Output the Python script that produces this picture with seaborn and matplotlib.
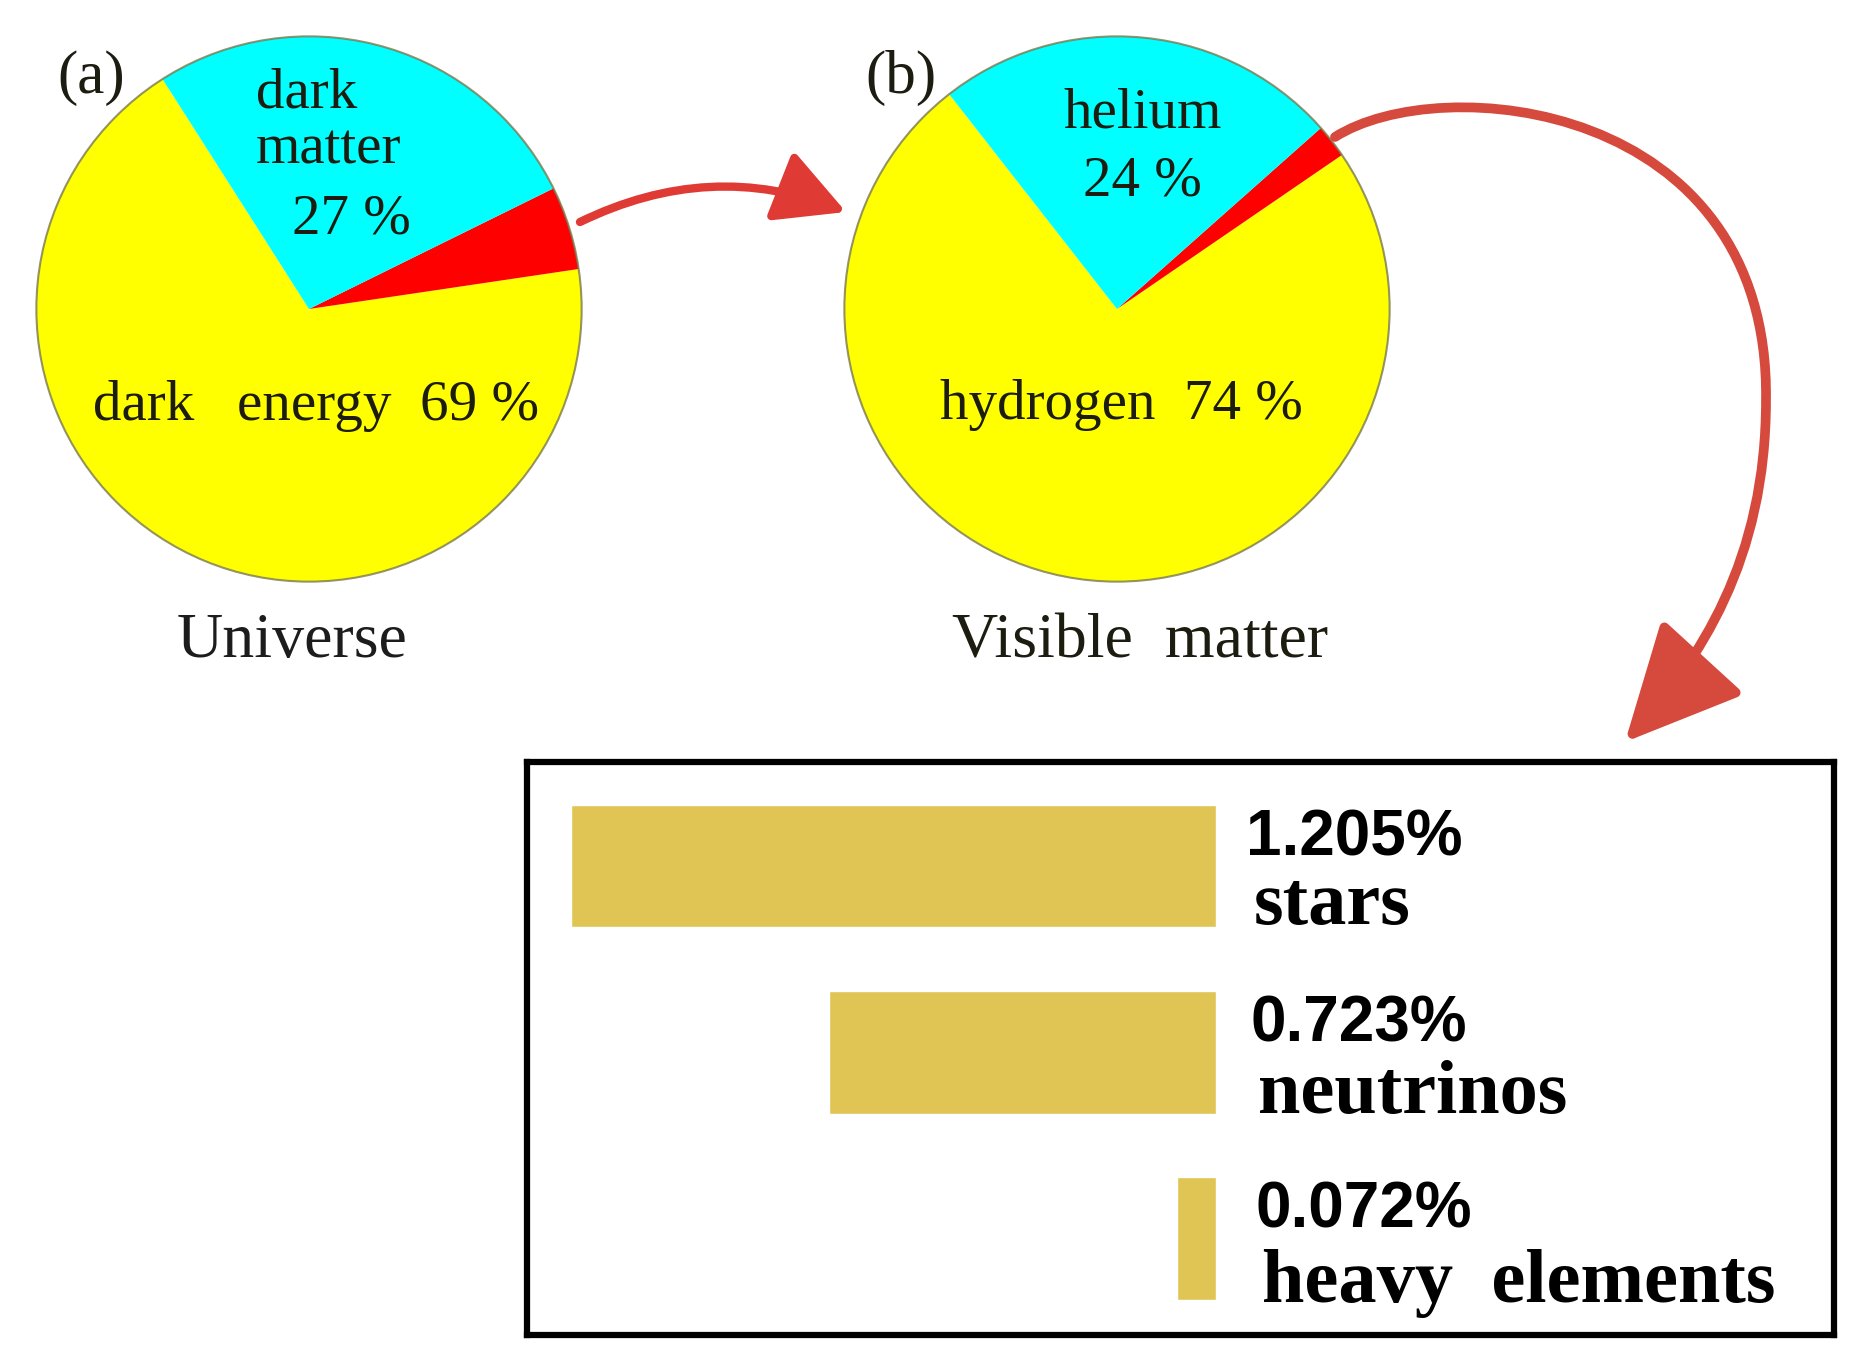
import matplotlib
matplotlib.use("Agg")
import matplotlib.pyplot as plt
import seaborn as sns
import pandas as pd
from matplotlib.patches import FancyArrowPatch, Circle
from matplotlib.path import Path

# data
universe_labels = ["dark energy", "ordinary matter", "dark matter"]
universe_values = [69, 5, 27]
visible_labels = ["hydrogen", "other", "helium"]
visible_values = [74, 2, 24]
pie_colors = ["#ffff00", "#ff0000", "#00ffff"]

bar_names = ["stars", "neutrinos", "heavy  elements"]
bar_values = [1.205, 0.723, 0.072]
bar_texts = ["1.205%", "0.723%", "0.072%"]

W, H = 1866, 1358
sns.set_theme(style="white")
plt.rcParams["font.family"] = ["Liberation Serif", "DejaVu Serif"]

fig = plt.figure(figsize=(W / 100, H / 100), dpi=100)
fig.patch.set_facecolor("white")


def fx(x):
    return x / W


def fy(y):
    return 1 - y / H


def pie_axes(cx, cy, r):
    ax = fig.add_axes([fx(cx - r), fy(cy + r), 2 * r / W, 2 * r / H])
    ax.axis("off")
    return ax


def finish_pie(ax):
    ax.add_patch(Circle((0, 0), 1, fill=False, ec="#7a7a50", lw=1.5, alpha=0.8))
    ax.set_xlim(-1.005, 1.005)
    ax.set_ylim(-1.005, 1.005)
    ax.set_aspect("equal")


ax_a = pie_axes(309, 309, 274)
ax_a.pie(universe_values, colors=pie_colors, startangle=122.5, counterclock=True,
         radius=1, wedgeprops=dict(linewidth=0))
finish_pie(ax_a)

ax_b = pie_axes(1117, 309, 274)
ax_b.pie(visible_values, colors=pie_colors, startangle=128, counterclock=True,
         radius=1, wedgeprops=dict(linewidth=0))
finish_pie(ax_b)

serif = dict(color="#1c1c10", va="baseline")
fs = 41
fig.text(fx(57), fy(93), "(a)", fontsize=44, **serif)
fig.text(fx(865), fy(93), "(b)", fontsize=44, **serif)
fig.text(fx(256), fy(108), "dark", fontsize=fs, **serif)
fig.text(fx(256), fy(163), "matter", fontsize=fs, **serif)
fig.text(fx(292), fy(234), "27 %", fontsize=fs, **serif)
fig.text(fx(93), fy(420), "dark   energy  69 %", fontsize=fs, **serif)
fig.text(fx(292), fy(657), "Universe", fontsize=46, ha="center", color="#1c1c1c", va="baseline")
fig.text(fx(1063), fy(127), "helium", fontsize=fs, **serif)
fig.text(fx(1083), fy(196), "24 %", fontsize=fs, **serif)
fig.text(fx(940), fy(419), "hydrogen  74 %", fontsize=fs, **serif)
fig.text(fx(952), fy(657), "Visible  matter", fontsize=46, **serif)

# bar panel (axes frame is the black box)
ax_bar = fig.add_axes([fx(527), fy(1335), (1834 - 527) / W, (1335 - 762) / H])
df = pd.DataFrame({"name": bar_names, "value": bar_values})
sns.barplot(data=df, x="value", y="name", orient="h", color="#e0c555",
            saturation=1, width=0.66, ax=ax_bar)
ax_bar.set_xlim(1.287, -1.1545)
ax_bar.set_ylim(2.52, -0.559)
ax_bar.set_xticks([])
ax_bar.set_yticks([])
ax_bar.set_xlabel("")
ax_bar.set_ylabel("")
for s in ax_bar.spines.values():
    s.set_visible(True)
    s.set_color("black")
    s.set_linewidth(4.5)

for i, (num, name) in enumerate(zip(bar_texts, bar_names)):
    ax_bar.annotate(num, xy=(0, i), xytext=(30 + 5 * i, 11), textcoords="offset pixels",
                    fontsize=46, fontweight="bold", family=["Liberation Sans", "DejaVu Sans"],
                    va="baseline", ha="left", color="black")
    ax_bar.annotate(name, xy=(0, i), xytext=(38 + 4 * i, -58 - 3 * i), textcoords="offset pixels",
                    fontsize=55, fontweight="bold", va="baseline", ha="left", color="black")

arrow_red = "#d64a3e"
small = FancyArrowPatch((fx(580), fy(222)), (fx(846), fy(212)), transform=fig.transFigure,
                        connectionstyle="arc3,rad=-0.22",
                        arrowstyle="-|>,head_length=0.85,head_width=0.45",
                        mutation_scale=50, lw=6, color="#e03a35", shrinkA=0, shrinkB=0)
fig.add_artist(small)

verts = [(1335, 137), (1440, 70), (1770, 100), (1766, 400),
         (1766, 560), (1700, 660), (1625, 742)]
codes = [Path.MOVETO, Path.CURVE4, Path.CURVE4, Path.CURVE4,
         Path.CURVE4, Path.CURVE4, Path.CURVE4]
big_path = Path([(fx(x), fy(y)) for x, y in verts], codes)
big = FancyArrowPatch(path=big_path, transform=fig.transFigure,
                      arrowstyle="-|>,head_length=1.2,head_width=0.58",
                      mutation_scale=60, lw=7, color=arrow_red)
fig.add_artist(big)

fig.savefig("out.png", dpi=100, facecolor="white")
